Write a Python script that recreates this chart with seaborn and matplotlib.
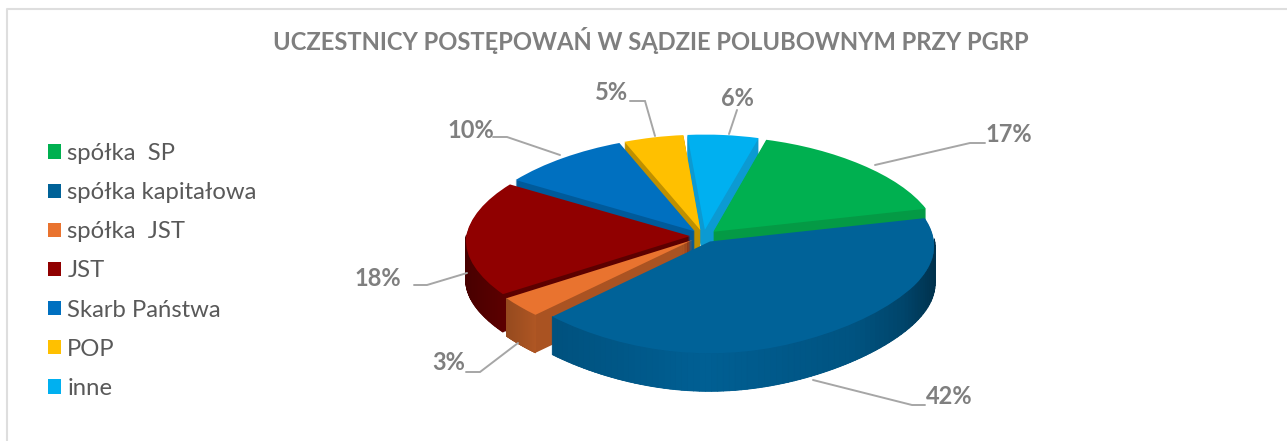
import numpy as np
import matplotlib
matplotlib.use("Agg")
import matplotlib.pyplot as plt
import seaborn as sns
from matplotlib.transforms import Transform, Affine2D
from matplotlib.collections import PolyCollection
from matplotlib.patches import Patch

# ---- data ----
title = "UCZESTNICY POSTĘPOWAŃ W SĄDZIE POLUBOWNYM PRZY PGRP"
categories = ["spółka  SP", "spółka kapitałowa", "spółka  JST", "JST",
              "Skarb Państwa", "POP", "inne"]
values = [17, 42, 3, 18, 10, 5, 6]

# ---- style ----
top_colors = ["#00B050", "#006298", "#E9732F", "#900000", "#0070C0", "#FFC000", "#00B0F0"]
wall_colors = ["#049A45", "#00517E", "#AA5322", "#5C0000", "#005A9A", "#BF9000", "#0C9AD2"]
draw_rank = [4, 6, 5, 3, 2, 1, 0]
start_angle = 73.8
explode_frac = 0.06
thickness = 38
cx, cy, Bx, Ay, k = 703.6, 236.0, 224.0, 103.0, 0.072
warp_back, warp_front = 0.07, 0.15
shade_x = [-1.05, -0.8, -0.7, 0.0, 0.7, 0.9, 1.03]
shade_f = [0.50, 0.72, 0.83, 0.97, 0.85, 0.70, 0.50]

# label text centre, then leader line points (pixels)
label_xy = [(1009, 135), (949, 396), (449, 363), (378, 279), (471, 131), (611, 93), (737, 98)]
leaders = [
    [(875, 165), (970, 143), (985, 143)],
    [(813, 380), (912, 405), (925, 405)],
    [(518, 343), (480, 372), (466, 372)],
    [(467, 273), (427, 285), (414, 285)],
    [(560, 155), (507, 137), (493, 137)],
    [(655, 136), (645, 101), (630, 101)],
    [(729, 134), (737, 110)],
]

sns.set_theme(style="white")
plt.rcParams["font.family"] = ["Lato", "DejaVu Sans"]

W, H = 1287, 441
fig = plt.figure(figsize=(W / 100, H / 100), dpi=100, facecolor="white")
ax = fig.add_axes([0, 0, 1, 1])


class Perspective(Transform):
    input_dims = output_dims = 2
    is_affine = False
    has_inverse = False

    def transform_non_affine(self, v):
        v = np.asarray(v, float)
        d = 1 + k * v[:, 1]
        c = np.where(v[:, 1] > 0, warp_back, warp_front)
        x = v[:, 0] * (1 - c * v[:, 1] ** 2)
        return np.column_stack([cx + Bx * x / d, cy - Ay * v[:, 1] / d])


persp = Perspective()
explode = [explode_frac] * len(values)
pie_kw = dict(explode=explode, startangle=start_angle, counterclock=False, radius=1,
              wedgeprops=dict(linewidth=0))

# flat cut walls: the pie repeated downward
for dz in range(thickness, 0, -1):
    wedges, _ = ax.pie(values, colors=wall_colors, **pie_kw)
    for w, r in zip(wedges, draw_rank):
        w.set_transform(persp + Affine2D().translate(0, dz) + ax.transData)
        w.set_zorder(10 * r + 1)

# top faces
tops, _ = ax.pie(values, colors=top_colors, **pie_kw)
for w, r in zip(tops, draw_rank):
    w.set_transform(persp + ax.transData)
    w.set_zorder(10 * r + 3)

# shaded outer rim, facing the viewer
for w, r, col in zip(tops, draw_rank, top_colors):
    th = np.radians(np.linspace(w.theta1, w.theta2, 90))
    ux = w.center[0] + np.cos(th)
    uy = w.center[1] + np.sin(th)
    p = persp.transform(np.column_stack([ux, uy]))
    polys, cols = [], []
    base = np.array(matplotlib.colors.to_rgb(col))
    for i in range(len(th) - 1):
        if np.sin(th[i]) > 0.0 and np.sin(th[i + 1]) > 0.0:
            continue
        a, b = p[i], p[i + 1]
        polys.append([a, b, b + (0, thickness), a + (0, thickness)])
        cols.append(base * np.interp(0.5 * (ux[i] + ux[i + 1]), shade_x, shade_f))
    if polys:
        ax.add_collection(PolyCollection(polys, facecolors=cols, edgecolors=cols,
                                         linewidths=0.6, zorder=10 * r + 2))

ax.set_aspect("auto")
ax.set_xlim(0, W)
ax.set_ylim(H, 0)
ax.set_axis_off()

# leader lines and value labels
for v, xy, pts in zip(values, label_xy, leaders):
    xs, ys = zip(*pts)
    ax.plot(xs, ys, color="#A6A6A6", lw=1.4, zorder=100, solid_joinstyle="miter")
    ax.text(xy[0], xy[1], f"{v}%", ha="center", va="center", fontsize=17,
            fontweight="bold", color="#7F7F7F", zorder=101)

ax.text(651, 40, title, ha="center", va="center", fontsize=17.1,
        fontweight="bold", color="#7F7F7F")

# chart frame
ax.plot([7, 7, W], [H, 9, 9], color="#DEDEDE", lw=1.5, zorder=0)

# legend
handles = [Patch(facecolor=c, edgecolor="none") for c in top_colors]
ax.legend(handles, categories, loc="upper left", bbox_to_anchor=(48 / W, 1 - 143 / H),
          frameon=False, fontsize=17.2, labelcolor="#595959", labelspacing=0.76,
          handlelength=0.54, handleheight=0.54, handletextpad=0.27, borderpad=0, borderaxespad=0)

fig.savefig("out.png", dpi=100, facecolor="white")
